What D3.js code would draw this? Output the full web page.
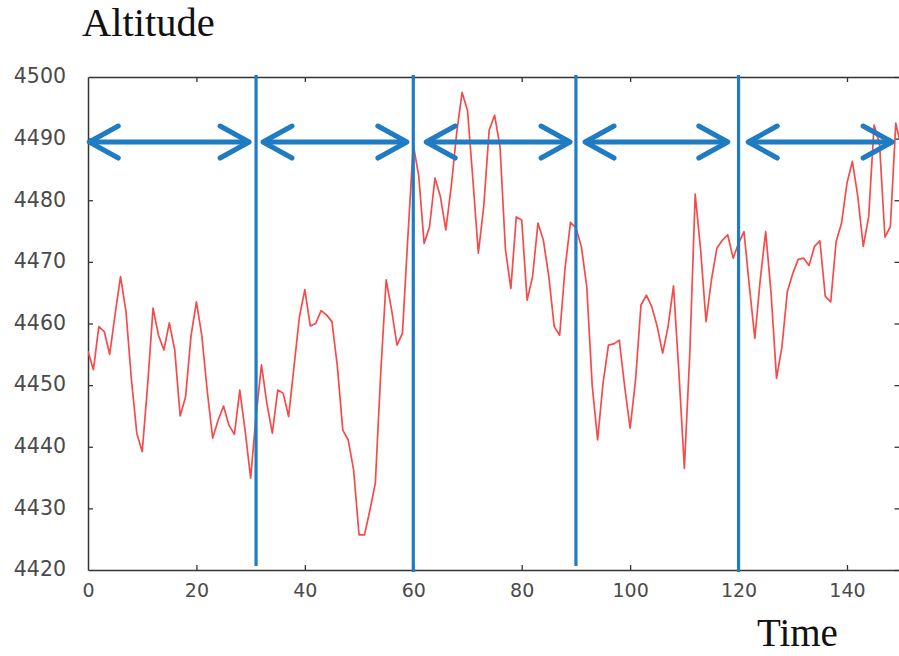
<!DOCTYPE html>
<html>
<head>
<meta charset="utf-8">
<script src="https://cdn.jsdelivr.net/npm/d3@7"></script>
<style>
  html, body { margin: 0; padding: 0; background: #fff; }
  svg { display: block; }
</style>
</head>
<body>
<svg id="chart" width="899" height="656"></svg>
<script>
// ---- data ----
const times = d3.range(0, 151);
const altitude = [
  4455.5, 4452.5, 4459.5, 4458.7, 4455.0, 4461.5, 4467.6, 4462.0, 4451.0, 4442.2,
  4439.2, 4450.0, 4462.5, 4458.1, 4455.7, 4460.1, 4455.7, 4445.0, 4448.1, 4458.0,
  4463.5, 4458.0, 4449.0, 4441.4, 4444.3, 4446.6, 4443.5, 4442.0, 4449.2, 4442.5,
  4434.9, 4445.0, 4453.3, 4447.0, 4442.2, 4449.2, 4448.7, 4444.9, 4453.0, 4461.1,
  4465.5, 4459.6, 4460.0, 4462.1, 4461.4, 4460.3, 4453.0, 4442.7, 4441.1, 4436.2,
  4425.7, 4425.7, 4429.7, 4434.1, 4452.0, 4467.1, 4462.2, 4456.5, 4458.4, 4474.0,
  4489.0, 4484.0, 4473.0, 4475.7, 4483.6, 4480.6, 4475.2, 4482.2, 4490.9, 4497.5,
  4494.6, 4483.3, 4471.4, 4479.0, 4491.4, 4493.8, 4488.7, 4472.0, 4465.7, 4477.3,
  4476.8, 4463.8, 4467.6, 4476.3, 4473.5, 4467.6, 4459.5, 4458.1, 4469.0, 4476.4,
  4475.5, 4472.5, 4466.0, 4450.0, 4441.1, 4450.3, 4456.5, 4456.7, 4457.3, 4449.7,
  4443.0, 4450.8, 4463.0, 4464.6, 4462.7, 4459.5, 4455.2, 4459.5, 4466.1, 4452.0,
  4436.5, 4455.0, 4481.0, 4472.0, 4460.3, 4467.1, 4472.2, 4473.5, 4474.4, 4470.6,
  4473.0, 4474.9, 4466.0, 4457.6, 4467.1, 4474.9, 4464.9, 4451.1, 4456.2, 4465.2,
  4468.1, 4470.4, 4470.6, 4469.4, 4472.5, 4473.4, 4464.4, 4463.5, 4473.3, 4476.3,
  4482.8, 4486.3, 4480.6, 4472.5, 4477.3, 4492.2, 4489.2, 4474.0, 4475.7, 4492.5,
  4488.7
];
const xTicks = [0, 20, 40, 60, 80, 100, 120, 140];
const yTicks = [4420, 4430, 4440, 4450, 4460, 4470, 4480, 4490, 4500];
const dividers = [31, 60, 90, 120];
const arrowStart = [0.05, 32.1, 62.2, 91.5, 121.6];
const arrowEnd = [29.9, 59.0, 89.1, 118.2, 148.5];
const arrowLevel = 4489.45;
const yTitle = "Altitude";
const xTitle = "Time";

// ---- layout ----
const svg = d3.select("#chart");
const pLeft = 88, pRight = 901.2, pTop = 77, pBottom = 570;
const x = d3.scaleLinear().domain([0, 150]).range([pLeft, pRight]);
const y = d3.scaleLinear().domain([4420, 4500]).range([pBottom, pTop]);

const axisColor = "#333";
const labelColor = "#4a4a4a";
const blue = "#1f7bc2";

// clip
svg.append("defs").append("clipPath").attr("id", "plotclip")
  .append("rect").attr("x", pLeft).attr("y", pTop).attr("width", pRight - pLeft).attr("height", pBottom - pTop);

// axes
const gBottom = svg.append("g").attr("transform", `translate(0,${pBottom})`)
  .call(d3.axisBottom(x).tickValues(xTicks).tickSizeInner(-5).tickSizeOuter(0).tickPadding(14));
const gTop = svg.append("g").attr("transform", `translate(0,${pTop})`)
  .call(d3.axisTop(x).tickValues(xTicks).tickSizeInner(-5).tickSizeOuter(0).tickFormat(""));
const gLeft = svg.append("g").attr("transform", `translate(${pLeft},0)`)
  .call(d3.axisLeft(y).tickValues(yTicks).tickSizeInner(-5).tickSizeOuter(0).tickPadding(22).tickFormat(d3.format("d")));
const gRight = svg.append("g").attr("transform", `translate(899.5,0)`)
  .call(d3.axisRight(y).tickValues(yTicks).tickSizeInner(-5).tickSizeOuter(0).tickFormat(""));
gRight.select(".domain").remove();

[gBottom, gTop, gLeft, gRight].forEach(g => {
  g.selectAll(".domain").attr("stroke", axisColor).attr("stroke-width", 1.5);
  g.selectAll(".tick line").attr("stroke", axisColor).attr("stroke-width", 1.3);
  g.selectAll(".tick text")
    .attr("fill", labelColor)
    .attr("font-family", "'DejaVu Sans', sans-serif");
});
gBottom.selectAll(".tick text").attr("font-size", 19);
gLeft.selectAll(".tick text").attr("font-size", 20.5).attr("dy", "0.28em");
gLeft.selectAll(".tick").filter(d => d === 4420 || d === 4500).select("line").remove();
gBottom.selectAll(".tick").filter(d => d === 0).select("line").remove();
gTop.selectAll(".tick").filter(d => d === 0).select("line").remove();

// altitude line
const line = d3.line().x((d, i) => x(times[i])).y(d => y(d));
svg.append("path")
  .datum(altitude)
  .attr("clip-path", "url(#plotclip)")
  .attr("fill", "none")
  .attr("stroke", "#f64b4b")
  .attr("stroke-width", 1.7)
  .attr("stroke-linejoin", "round")
  .attr("d", line);

// vertical dividers
svg.append("g").selectAll("line").data(dividers).join("line")
  .attr("x1", d => x(d)).attr("x2", d => x(d))
  .attr("y1", pTop - 2)
  .attr("y2", (d, i) => (i % 2 === 0 ? pBottom - 4 : pBottom + 2))
  .attr("stroke", blue).attr("stroke-width", 3.2);

// double-headed arrows
const ay = y(arrowLevel);
const ga = svg.append("g").attr("stroke", blue).attr("fill", "none")
  .attr("stroke-width", 5).attr("stroke-linecap", "round").attr("stroke-linejoin", "round");
arrowStart.forEach((s, i) => {
  const x0 = x(s), x1 = x(arrowEnd[i]);
  ga.append("line").attr("x1", x0 + 2).attr("x2", x1 - 2).attr("y1", ay).attr("y2", ay);
  ga.append("path").attr("d", `M${x0 + 30},${ay - 16} L${x0 + 1},${ay} L${x0 + 30},${ay + 16}`);
  ga.append("path").attr("d", `M${x1 - 30},${ay - 16} L${x1 - 1},${ay} L${x1 - 30},${ay + 16}`);
});

// titles
svg.append("text").attr("x", 82).attr("y", 36)
  .attr("font-family", "'Liberation Serif', 'DejaVu Serif', serif")
  .attr("font-size", 40.5).attr("fill", "#111").text(yTitle);
svg.append("text").attr("x", 757).attr("y", 646)
  .attr("font-family", "'Liberation Serif', 'DejaVu Serif', serif")
  .attr("font-size", 39).attr("fill", "#111").text(xTitle);
</script>
</body>
</html>
